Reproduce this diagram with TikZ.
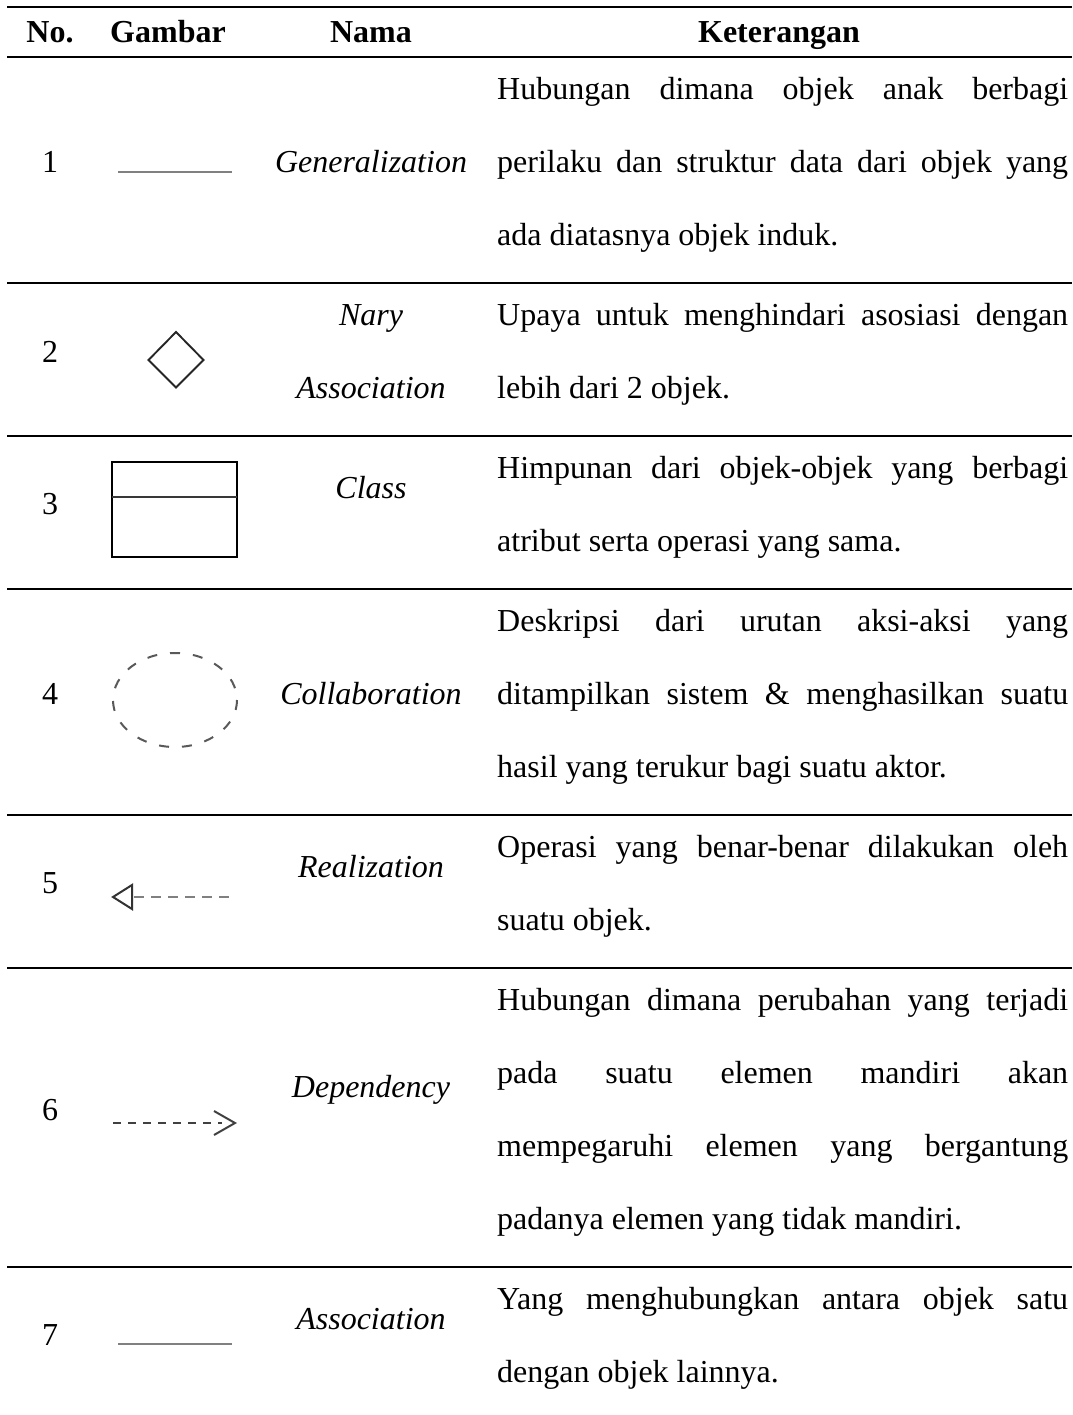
\documentclass[tikz,border=0pt]{standalone}
\usepackage{fontspec}
\setmainfont{Liberation Serif}
\newcommand\justline[1]{\makebox[571pt][s]{#1}}
\begin{document}
\begin{tikzpicture}[x=1pt,y=-1pt,
  txt/.style={inner sep=0pt,font=\fontsize{32}{38}\selectfont},
  hdr/.style={inner sep=0pt,anchor=base,font=\fontsize{32}{38}\selectfont\bfseries},
  ket/.style={txt,anchor=mid west},
  num/.style={txt,anchor=mid},
  nama/.style={inner sep=0pt,anchor=mid,font=\fontsize{32}{38}\selectfont\itshape},
  plainline/.style={line width=2.8pt,black!50},
  iconline/.style={line width=1.9pt,black!85}]
\useasboundingbox (0,0) rectangle (1072,1415);

% horizontal rules of the table
\foreach \y/\w in {7/2.6,57/2.2,283/2.2,436/2.2,589/2.2,815/2.2,968/2.2,1267/2.2}
  \draw[line width=\w pt] (7,\y) -- (1072,\y);

% header
\node[hdr] (h-no)  at (50,43)  {No.};
\node[hdr] (h-gb)  at (168,43) {Gambar};
\node[hdr] (h-nm)  at (371,43) {Nama};
\node[hdr] (h-kt)  at (779,43) {Keterangan};

% row 1
\node[num]  (n1) at (50,170) {1};
\draw[plainline] (118,172) -- (232,172);
\node[nama] (m1) at (371,170) {Generalization};
\node[ket]  (k1a) at (497,97)  {\justline{Hubungan dimana objek anak berbagi}};
\node[ket]  (k1b) at (497,170) {\justline{perilaku dan struktur data dari objek yang}};
\node[ket]  (k1c) at (497,243) {ada diatasnya objek induk.};

% row 2
\node[num]  (n2) at (50,360) {2};
\draw[iconline] (176,332) -- (203.5,360) -- (176,387.5) -- (148.5,360) -- cycle;
\node[nama] (m2a) at (371,323) {Nary};
\node[nama] (m2b) at (371,396) {Association};
\node[ket]  (k2a) at (497,323) {\justline{Upaya untuk menghindari asosiasi dengan}};
\node[ket]  (k2b) at (497,396) {lebih dari 2 objek.};

% row 3
\node[num]  (n3) at (50,512) {3};
\draw[line width=2pt,black] (112,462) rectangle (237,557);
\draw[line width=2pt,black!78] (112,497) -- (237,497);
\node[nama] (m3) at (371,496) {Class};
\node[ket]  (k3a) at (497,476) {\justline{Himpunan dari objek-objek yang berbagi}};
\node[ket]  (k3b) at (497,549) {atribut serta operasi yang sama.};

% row 4
\node[num]  (n4) at (50,702) {4};
\draw[line width=2pt,black!65,dash pattern=on 10pt off 13pt] (175,700) ellipse [x radius=62,y radius=47];
\node[nama] (m4) at (371,702) {Collaboration};
\node[ket]  (k4a) at (497,629) {\justline{Deskripsi dari urutan aksi-aksi yang}};
\node[ket]  (k4b) at (497,702) {\justline{ditampilkan sistem \& menghasilkan suatu}};
\node[ket]  (k4c) at (497,775) {hasil yang terukur bagi suatu aktor.};

% row 5
\node[num]  (n5) at (50,891) {5};
\draw[line width=2.2pt,black!50,dash pattern=on 10pt off 7pt] (134,897) -- (235,897);
\draw[line width=2pt,black!80,line join=miter] (132,885) -- (113,897) -- (132,909) -- cycle;
\node[nama] (m5) at (371,875) {Realization};
\node[ket]  (k5a) at (497,855) {\justline{Operasi yang benar-benar dilakukan oleh}};
\node[ket]  (k5b) at (497,928) {suatu objek.};

% row 6
\node[num]  (n6) at (50,1118) {6};
\draw[line width=2.2pt,black!75,dash pattern=on 8pt off 7pt] (113,1123) -- (222,1123);
\draw[line width=2pt,black!75] (214,1111) -- (235,1123) -- (214,1135);
\node[nama] (m6) at (371,1095) {Dependency};
\node[ket]  (k6a) at (497,1008) {\justline{Hubungan dimana perubahan yang terjadi}};
\node[ket]  (k6b) at (497,1081) {\justline{pada suatu elemen mandiri akan}};
\node[ket]  (k6c) at (497,1154) {\justline{mempegaruhi elemen yang bergantung}};
\node[ket]  (k6d) at (497,1227) {padanya elemen yang tidak mandiri.};

% row 7
\node[num]  (n7) at (50,1343) {7};
\draw[plainline] (118,1344) -- (232,1344);
\node[nama] (m7) at (371,1327) {Association};
\node[ket]  (k7a) at (497,1307) {\justline{Yang menghubungkan antara objek satu}};
\node[ket]  (k7b) at (497,1380) {dengan objek lainnya.};
\end{tikzpicture}
\end{document}
